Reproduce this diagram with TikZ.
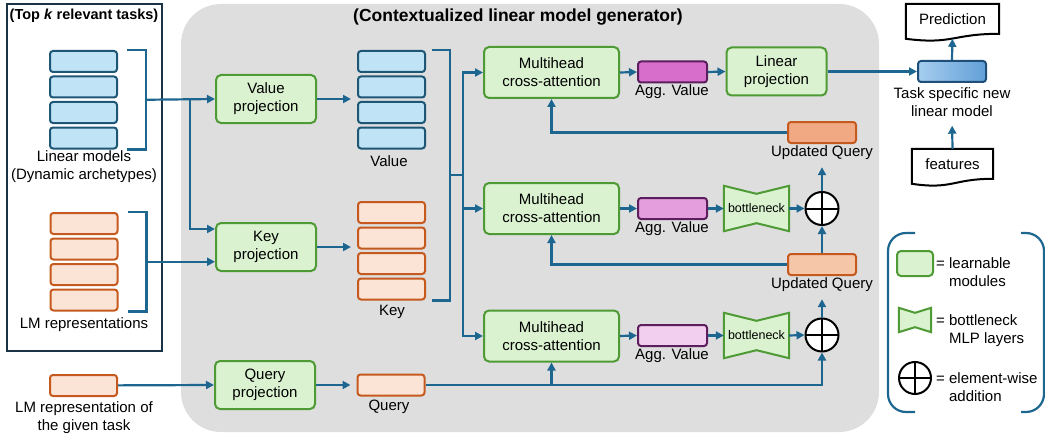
\documentclass[tikz,border=0pt]{standalone}
\usepackage{fontspec}
\setmainfont{Liberation Sans}
\usetikzlibrary{positioning, arrows.meta, calc}

\definecolor{lineblue}{HTML}{1D6690}
\definecolor{framenavy}{HTML}{1B3445}
\definecolor{panelgray}{HTML}{DEDEDE}
\definecolor{modfill}{HTML}{DAF2D0}
\definecolor{moddraw}{HTML}{4E9A34}
\definecolor{valfill}{HTML}{C0E4F5}
\definecolor{valdraw}{HTML}{1E5676}
\definecolor{keyfill}{HTML}{FBE3D6}
\definecolor{keydraw}{HTML}{C65A1E}
\definecolor{uqdark}{HTML}{F1A983}
\definecolor{uqlight}{HTML}{F6C6A8}
\definecolor{aggA}{HTML}{D86ECC}
\definecolor{aggB}{HTML}{E49EDD}
\definecolor{aggC}{HTML}{F2CEEF}
\definecolor{aggdraw}{HTML}{5C1E5C}
\definecolor{taskA}{HTML}{A6CDEE}
\definecolor{taskB}{HTML}{62A0D8}
\definecolor{taskdraw}{HTML}{1F4E79}

\pgfdeclarelayer{bg}
\pgfsetlayers{bg,main}

\tikzset{
  link/.style={draw=lineblue, line width=2.2pt},
  headline/.style={font=\bfseries\fontsize{17.5}{20}\selectfont, inner sep=1pt},
  textlbl/.style={align=center, inner sep=1pt},
  module/.style={rectangle, rounded corners=5pt, draw=moddraw, fill=modfill, line width=2pt,
    align=center, minimum width=100pt, minimum height=48pt, inner sep=1pt},
  attn/.style={module, minimum width=135pt, minimum height=51pt},
  vbar/.style={rectangle, rounded corners=3pt, draw=valdraw, fill=valfill, line width=2pt,
    minimum width=67pt, minimum height=21pt, inner sep=0pt},
  kbar/.style={vbar, draw=keydraw, fill=keyfill},
  uqbar/.style={kbar, minimum width=68pt},
  agg/.style={vbar, draw=aggdraw, minimum width=69pt},
  taskbar/.style={rectangle, rounded corners=3pt, draw=taskdraw, left color=taskA, right color=taskB,
    line width=2pt, minimum width=68pt, minimum height=21pt, inner sep=0pt},
  neck/.style={rectangle, minimum width=65pt, minimum height=45pt, inner sep=0pt,
    font=\fontsize{12.5}{14}\selectfont},
  neckline/.style={draw=moddraw, fill=modfill, line width=2pt},
  adder/.style={circle, draw=black, fill=white, line width=2pt, minimum size=33pt, inner sep=0pt,
    path picture={\draw[line width=2pt] (path picture bounding box.north) -- (path picture bounding box.south)
      (path picture bounding box.west) -- (path picture bounding box.east);}},
  docbox/.style={rectangle, inner sep=0pt},
  docline/.style={draw=black, line width=2pt},
}

% bow-tie outline behind a neck node: #1 node, #2 pinch depth
\newcommand{\neckpath}[2]{%
  \begin{pgfonlayer}{bg}
    \draw[neckline] (#1.north west) -- ([yshift=-#2]#1.north) -- (#1.north east)
      -- (#1.south east) -- ([yshift=#2]#1.south) -- (#1.south west) -- cycle;
  \end{pgfonlayer}}
% document outline with a wavy bottom
\newcommand{\docoutline}[1]{%
  \draw[docline] ([yshift=-5pt]#1.south west) -- (#1.north west) -- (#1.north east) -- (#1.south east)
    .. controls (#1.south) and ([yshift=-11pt]#1.south) .. ([yshift=-5pt]#1.south west) -- cycle;}

\begin{document}
\begin{tikzpicture}[x=1pt, y=-1pt, >={Triangle[length=8pt,width=8pt]},
    font=\fontsize{15}{18}\selectfont]
  \useasboundingbox (0,0) rectangle (1045,436);

  % generator panel
  \begin{pgfonlayer}{bg}
    \fill[panelgray, rounded corners=40pt] (181,4) rectangle (879,432);
  \end{pgfonlayer}
  \node[headline] (gentitle) at (518,17) {(Contextualized linear model generator)};

  % retrieved tasks
  \draw[framenavy, line width=2.5pt] (7,4) rectangle (162,351);
  \node[headline, font=\bfseries\fontsize{14.5}{17}\selectfont] (toptitle) at (84,16) {(Top \textit{k} relevant tasks)};

  \node[vbar] (b1) at (83.5,61.5) {};
  \node[vbar, below=2.5pt of b1] (b2) {};
  \node[vbar, below=2.5pt of b2] (b3) {};
  \node[vbar, below=2.5pt of b3] (b4) {};
  \node[textlbl] (blbl) at (84,167) {Linear models\\(Dynamic archetypes)};

  \node[kbar] (o1) at (84,223.5) {};
  \node[kbar, below=2.5pt of o1] (o2) {};
  \node[kbar, below=2.5pt of o2] (o3) {};
  \node[kbar, below=2.5pt of o3] (o4) {};
  \node[textlbl] (olbl) at (84,325) {LM representations};

  \node[kbar] (qin) at (83.5,385.5) {};
  \node[textlbl] (qinlbl) at (84,418) {LM representation of\\the given task};

  \draw[link] ([xshift=9pt]b1.north east) -| ([xshift=28pt]b4.south east) -- ([xshift=9pt]b4.south east);
  \draw[link] ([xshift=9pt]o1.north east) -| ([xshift=28pt]o4.south east) -- ([xshift=9pt]o4.south east);
  \coordinate (bin) at ($(b1.north east)!0.5!(b4.south east)+(28pt,0)$);
  \coordinate (oin) at ($(o1.north east)!0.5!(o4.south east)+(28pt,0)$);
  \coordinate (vsplit) at ($(bin)+(44pt,0)$);

  % projections
  \node[module] (vproj) at (266,99) {Value\\projection};
  \node[module] (kproj) at (266,247) {Key\\projection};
  \node[module] (qproj) at (265,385) {Query\\projection};

  \draw[link, ->] (bin) -- (vproj.west);
  \draw[link, ->] (vsplit) |- ([yshift=18pt]kproj.west);
  \draw[link, ->] (oin) -- (oin -| kproj.west);
  \draw[link, ->] (qin) -- (qproj.west);

  % projected value, key and query
  \node[vbar] (v1) at (391.5,61.5) {};
  \node[vbar, below=2.5pt of v1] (v2) {};
  \node[vbar, below=2.5pt of v2] (v3) {};
  \node[vbar, below=2.5pt of v3] (v4) {};
  \node[textlbl] (vlbl) at (389,161) {Value};

  \node[kbar] (w1) at (391.5,212.5) {};
  \node[kbar, below=2.5pt of w1] (w2) {};
  \node[kbar, below=2.5pt of w2] (w3) {};
  \node[kbar, below=2.5pt of w3] (w4) {};
  \node[textlbl] (wlbl) at (392,312) {Key};

  \node[kbar] (qv) at (391,385) {};
  \node[textlbl] (qvlbl) at (389,407) {Query};

  \draw[link, ->, shorten >=6pt] (vproj.east) -- (vproj.east -| v1.west);
  \draw[link, ->, shorten >=6pt] (kproj.east) -- (kproj.east -| w1.west);
  \draw[link, ->, shorten >=6pt] (qproj.east) -- (qv.west);

  \draw[link] ([xshift=6pt]v1.north east) -| ([xshift=24pt]w4.south east) -- ([xshift=6pt]w4.south east);
  \coordinate (kvin) at ($(v1.north east)!0.5!(w4.south east)+(24pt,0)$);
  \coordinate (kvsplit) at ($(kvin)+(13pt,0)$);

  % attention blocks
  \node[attn] (mh1) at (551.5,72.5) {Multihead\\cross-attention};
  \node[attn] (mh2) at (551.5,208.5) {Multihead\\cross-attention};
  \node[attn] (mh3) at (551.5,336) {Multihead\\cross-attention};

  \draw[link] (kvin) -- (kvsplit);
  \draw[link, ->] (kvsplit) |- (mh1.west);
  \draw[link, ->] (kvsplit) |- (mh2.west);
  \draw[link, ->] (kvsplit) |- (mh3.west);

  \node[agg, fill=aggA] (a1) at (672.5,72) {};
  \node[agg, fill=aggB] (a2) at (672.5,208.5) {};
  \node[agg, fill=aggC] (a3) at (672.5,335.5) {};
  \node[textlbl] (a1lbl) at (672,92) {Agg. Value};
  \node[textlbl] (a2lbl) at (672,229) {Agg. Value};
  \node[textlbl] (a3lbl) at (672,356) {Agg. Value};

  \draw[link, ->] (mh1.east) -- (a1.west);
  \draw[link, ->] (mh2.east) -- (a2.west);
  \draw[link, ->] (mh3.east) -- (a3.west);

  \node[module] (lin) at (776.5,71.5) {Linear\\projection};
  \draw[link, ->] (a1.east) -- (lin.west);

  % residual updates of the query
  \node[neck] (bn2) at (756.5,208.5) {bottleneck};
  \neckpath{bn2}{8pt}
  \node[neck] (bn3) at (756.5,335.5) {bottleneck};
  \neckpath{bn3}{8pt}
  \node[adder] (add2) at (822,208.5) {};
  \node[adder] (add3) at (822,335) {};

  \node[uqbar, fill=uqdark] (uq1) at (822,132.5) {};
  \node[textlbl] (uq1lbl) at (822,153) {Updated Query};
  \node[uqbar, fill=uqlight] (uq2) at (822,264.5) {};
  \node[textlbl] (uq2lbl) at (822,285) {Updated Query};

  \draw[link, ->] (a2.east) -- (bn2.west);
  \draw[link, ->] (bn2.east) -- (add2.west);
  \draw[link, ->] (a3.east) -- (bn3.west);
  \draw[link, ->] (bn3.east) -- (add3.west);

  \draw[link, ->, shorten >=6pt] (add2.north) -- (uq1lbl.south);
  \draw[link, ->] (uq2.north) -- (add2.south);
  \draw[link, ->, shorten >=6pt] (add3.north) -- (uq2lbl.south);
  \draw[link, ->] (uq1.west) -| (mh1.south);
  \draw[link, ->] (uq2.west) -| (mh2.south);
  \draw[link, ->] (qv.east) -| (add3.south);
  \draw[link, ->] (qv.east -| mh3.south) -- (mh3.south);

  % generated model
  \node[taskbar] (task) at (952,71.5) {};
  \node[textlbl] (tasklbl) at (952,102) {Task specific new\\linear model};
  \node[docbox, minimum width=93pt, minimum height=29.6pt] (pred) at (952.5,18.8) {Prediction};
  \docoutline{pred}
  \node[docbox, minimum width=81pt, minimum height=29.6pt] (feat) at (952.5,163.8) {features};
  \docoutline{feat}

  \draw[link, ->] (lin.east) -- (task.west);
  \draw[link, ->, shorten >=5pt] (task.north) -- (pred.south);
  \draw[link, ->, shorten >=8pt] (feat.north) -- (tasklbl.south);

  % legend
  \draw[link, rounded corners=18pt] (915,233) -- (888,233) -- (888,412) -- (915,412);
  \draw[link, rounded corners=18pt] (1021,233) -- (1044,233) -- (1044,412) -- (1021,412);

  \node[module, minimum width=36pt, minimum height=25pt, rounded corners=4pt] (legmod) at (915,263.5) {};
  \node[textlbl, anchor=west, align=left] (legmodtxt) at (935,272.5) {= learnable\\\phantom{= }modules};
  \node[neck, minimum width=32pt, minimum height=24pt] (legneck) at (915,320) {};
  \neckpath{legneck}{5pt}
  \node[textlbl, anchor=west, align=left] (legnecktxt) at (935,330.5) {= bottleneck\\\phantom{= }MLP layers};
  \node[adder, minimum size=32pt] (legadd) at (915,378) {};
  \node[textlbl, anchor=west, align=left] (legaddtxt) at (935,387.5) {= element-wise\\\phantom{= }addition};
\end{tikzpicture}
\end{document}
